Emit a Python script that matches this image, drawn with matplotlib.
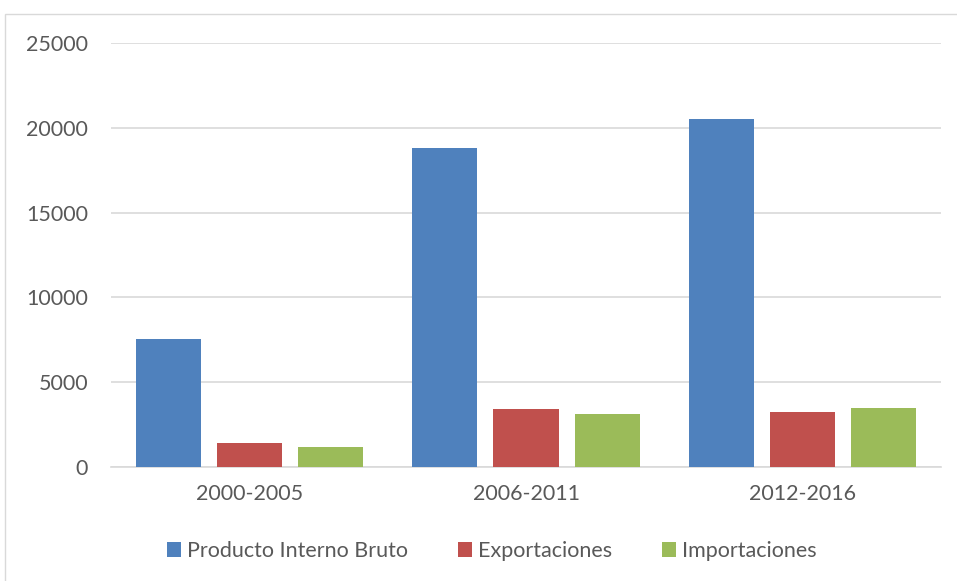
import matplotlib.pyplot as plt
import numpy as np
from matplotlib.patches import Rectangle

categories = ['2000-2005', '2006-2011', '2012-2016']
series = ['Producto Interno Bruto', 'Exportaciones', 'Importaciones']
pib = [7550, 18790, 20525]
exportaciones = [1390, 3440, 3270]
importaciones = [1185, 3130, 3465]
colors = ['#4F81BD', '#C0504D', '#9BBB59']

plt.rcParams['font.family'] = ['Lato', 'DejaVu Sans']
txt = '#595959'
fs = 15.5

fig = plt.figure(figsize=(9.57, 5.81), dpi=100)
ax = fig.add_axes([111/957, 1-467/581, (941-111)/957, (467-43)/581])

# outer chart border (cut off at right/bottom like the reference)
fig.patches.append(Rectangle((5/957, -0.05), 1.1, 1-14/581+0.05, transform=fig.transFigure,
                             fill=False, edgecolor='#D9D9D9', linewidth=1))

x = np.arange(len(categories))
w = 0.235
step = 0.293
for i, (vals, name) in enumerate(zip([pib, exportaciones, importaciones], series)):
    ax.bar(x + (i-1)*step, vals, w, color=colors[i], label=name, zorder=3)

ax.set_xlim(-0.5, 2.5)
ax.set_ylim(0, 25000)
ax.set_yticks(range(0, 25001, 5000))
ax.yaxis.grid(True, color='#D9D9D9', linewidth=1.2, zorder=0)
for s in ['top', 'right', 'left']:
    ax.spines[s].set_visible(False)
ax.spines['bottom'].set_color('#D9D9D9')
ax.spines['bottom'].set_linewidth(1.2)
ax.set_xticks(x)
ax.set_xticklabels(categories)
ax.tick_params(axis='both', length=0, labelsize=fs, colors=txt)
ax.tick_params(axis='y', pad=16.5)
ax.tick_params(axis='x', pad=12.5)

leg = fig.legend(loc='center', bbox_to_anchor=(492/957, 1-551/581), ncol=3, frameon=False,
                 fontsize=fs, handlelength=0.65, handleheight=0.65, handletextpad=0.3,
                 columnspacing=2.3)
for t in leg.get_texts():
    t.set_color(txt)

plt.savefig('out.png', dpi=100)
